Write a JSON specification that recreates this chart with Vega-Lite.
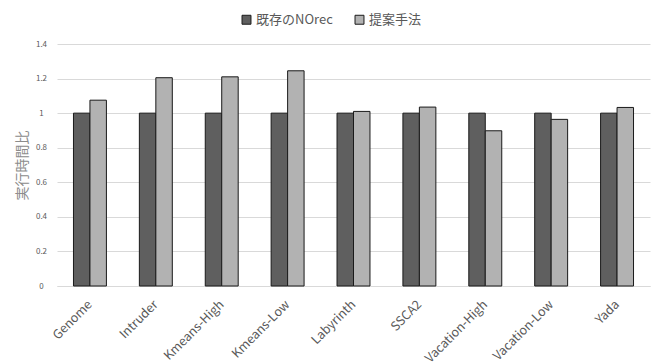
{
  "$schema": "https://vega.github.io/schema/vega-lite/v6.json",
  "width": 593,
  "height": 242,
  "autosize": {"type": "none"},
  "padding": {"left": 57, "top": 44, "right": 4, "bottom": 77},
  "background": "white",
  "config": {
    "view": {"stroke": null},
    "font": "Noto Sans CJK JP"
  },
  "data": {
    "values": [
      {"bench": "Genome", "method": "既存のNOrec", "ratio": 1.0},
      {"bench": "Genome", "method": "提案手法", "ratio": 1.075},
      {"bench": "Intruder", "method": "既存のNOrec", "ratio": 1.0},
      {"bench": "Intruder", "method": "提案手法", "ratio": 1.205},
      {"bench": "Kmeans-High", "method": "既存のNOrec", "ratio": 1.0},
      {"bench": "Kmeans-High", "method": "提案手法", "ratio": 1.21},
      {"bench": "Kmeans-Low", "method": "既存のNOrec", "ratio": 1.0},
      {"bench": "Kmeans-Low", "method": "提案手法", "ratio": 1.245},
      {"bench": "Labyrinth", "method": "既存のNOrec", "ratio": 1.0},
      {"bench": "Labyrinth", "method": "提案手法", "ratio": 1.01},
      {"bench": "SSCA2", "method": "既存のNOrec", "ratio": 1.0},
      {"bench": "SSCA2", "method": "提案手法", "ratio": 1.035},
      {"bench": "Vacation-High", "method": "既存のNOrec", "ratio": 1.0},
      {"bench": "Vacation-High", "method": "提案手法", "ratio": 0.898},
      {"bench": "Vacation-Low", "method": "既存のNOrec", "ratio": 1.0},
      {"bench": "Vacation-Low", "method": "提案手法", "ratio": 0.964},
      {"bench": "Yada", "method": "既存のNOrec", "ratio": 1.0},
      {"bench": "Yada", "method": "提案手法", "ratio": 1.033}
    ]
  },
  "mark": {"type": "bar", "stroke": "#1a1a1a", "strokeWidth": 1},
  "encoding": {
    "x": {
      "field": "bench",
      "type": "nominal",
      "sort": null,
      "scale": {"paddingInner": 0.5, "paddingOuter": 0.25},
      "axis": {
        "title": null,
        "labelAngle": -45,
        "labelAlign": "right",
        "labelBaseline": "middle",
        "labelFontSize": 12.5,
        "labelColor": "#595959",
        "labelPadding": 16,
        "labelDx": 0,
        "labelOverlap": false,
        "ticks": false,
        "domainColor": "#d9d9d9",
        "domainWidth": 1
      }
    },
    "xOffset": {
      "field": "method",
      "type": "nominal",
      "scale": {"domain": ["既存のNOrec", "提案手法"], "paddingInner": 0, "paddingOuter": 0}
    },
    "y": {
      "field": "ratio",
      "type": "quantitative",
      "scale": {"domain": [0, 1.4], "nice": false},
      "axis": {
        "title": "実行時間比",
        "titleFontSize": 14,
        "titleFontWeight": "normal",
        "titleColor": "#8c8c8c",
        "titlePadding": 6,
        "values": [0, 0.2, 0.4, 0.6, 0.8, 1, 1.2, 1.4],
        "format": "~g",
        "labelFontSize": 8,
        "labelColor": "#595959",
        "labelAlign": "center",
        "labelPadding": 16,
        "ticks": false,
        "domain": false,
        "gridColor": "#d9d9d9",
        "gridWidth": 1
      }
    },
    "color": {
      "field": "method",
      "type": "nominal",
      "scale": {"domain": ["既存のNOrec", "提案手法"], "range": ["#5f5f5f", "#b2b2b2"]},
      "legend": {
        "title": null,
        "orient": "none",
        "direction": "horizontal",
        "legendX": 183,
        "legendY": -31,
        "symbolType": "square",
        "symbolSize": 80,
        "symbolStrokeColor": "#1a1a1a",
        "symbolStrokeWidth": 1,
        "labelFontSize": 13,
        "labelColor": "#595959",
        "labelOffset": 3,
        "columnPadding": 20
      }
    }
  }
}
